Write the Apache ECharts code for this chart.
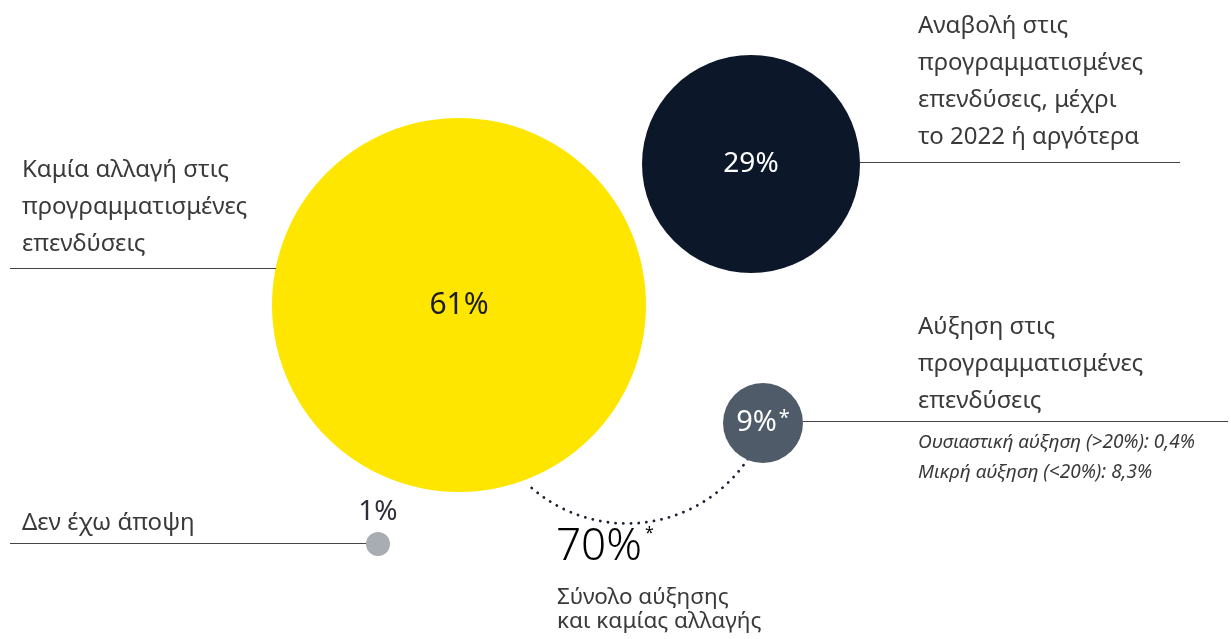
<!DOCTYPE html>
<html lang="el">
<head>
    <meta charset="UTF-8">
    <title>Επενδύσεις</title>
    <style>
        html, body {margin: 0; padding: 0; background: #fff;}
        #demo {width: 1231px; height: 639px;}
    </style>
</head>
<body>
<div id="demo"></div>
<script type="text/javascript" src="https://cdn.jsdelivr.net/npm/echarts@6/dist/echarts.min.js"></script>
<script type="text/javascript">
// data
var categories = [
    'Καμία αλλαγή στις\nπρογραμματισμένες\nεπενδύσεις',
    'Αναβολή στις\nπρογραμματισμένες\nεπενδύσεις, μέχρι\nτο 2022 ή αργότερα',
    'Αύξηση στις\nπρογραμματισμένες\nεπενδύσεις',
    'Δεν έχω άποψη'
];
var values = [61, 29, 9, 1];
var starred = [false, false, true, false];
var subLabels = ['Ουσιαστική αύξηση (>20%): 0,4%', 'Μικρή αύξηση (<20%): 8,3%'];
var totalValue = 70;
var totalLabel = 'Σύνολο αύξησης\nκαι καμίας αλλαγής';

// layout (axis units == pixels of the 1231x639 canvas)
var centers = [[459, 305], [751, 164], [763, 423], [378, 544]];
var radius = [187, 109, 40, 12];
var colors = ['#FFE600', '#0C1729', '#4F5B68', '#A8ADB3'];
var labelColors = ['#1C1C26', '#ffffff', '#ffffff', '#2E2E38'];
var labelSizes = [30, 28, 29, 28];
var leaders = [[[10, 268], [276, 268]], [[860, 162], [1180, 162]], [[803, 421], [1228, 421]], [[10, 543], [366, 543]]];
var textPos = [[22, 152], [918, 8], [918, 309], [22, 505]];
var arc = {c: [627, 378], r: 145.5, start: 33.8, end: 133.6};

var FONT = '"Noto Sans", "DejaVu Sans", sans-serif';
var myChart = echarts.init(document.getElementById('demo'));

var seriesData = values.map(function (v, i) {
    return {
        value: [centers[i][0], centers[i][1], v],
        symbolSize: radius[i] * 2,
        itemStyle: {color: colors[i], opacity: 1},
        label: {
            show: true,
            position: i === 3 ? 'top' : 'inside',
            distance: 6,
            formatter: v + '%' + (starred[i] ? '{s|*}' : ''),
            color: labelColors[i],
            fontSize: labelSizes[i],
            fontFamily: FONT,
            fontWeight: 'normal',
            rich: {
                s: {fontSize: 20, color: labelColors[i], verticalAlign: 'top', padding: [0, 0, 10, 2], fontFamily: FONT}
            }
        }
    };
});

option = {
    animation: false,
    grid: {left: 0, right: 0, top: 0, bottom: 0},
    xAxis: {type: 'value', min: 0, max: 1231, show: false},
    yAxis: {type: 'value', min: 0, max: 639, inverse: true, show: false},
    series: [
        {
            type: 'scatter',
            data: seriesData,
            silent: true,
            z: 3,
            markLine: {
                silent: true,
                symbol: 'none',
                label: {show: false},
                lineStyle: {color: '#444444', width: 1.2, type: 'solid', opacity: 1},
                data: leaders.map(function (l) {
                    return [{coord: l[0]}, {coord: l[1]}];
                })
            }
        }
    ]
};
myChart.setOption(option);

// texts and dotted arc, placed through the axes
function px(p) {
    return myChart.convertToPixel({gridIndex: 0}, p);
}
var graphics = [];
categories.forEach(function (t, i) {
    var p = px(textPos[i]);
    graphics.push({
        type: 'text', x: p[0], y: p[1], silent: true,
        style: {text: t, fontSize: 24, fontFamily: FONT, fill: '#3A3A3A', lineHeight: 37, textVerticalAlign: 'top'}
    });
});
var sp = px([918, 428]);
graphics.push({
    type: 'text', x: sp[0], y: sp[1], silent: true,
    style: {text: subLabels.join('\n'), fontSize: 19, fontStyle: 'italic', fontFamily: FONT, fill: '#3A3A3A', lineHeight: 30, textVerticalAlign: 'top'}
});
var tp = px([556, 525]);
graphics.push({
    type: 'text', x: tp[0], y: tp[1], silent: true,
    style: {
        text: '{big|' + totalValue + '%}{s|*}',
        rich: {
            big: {fontSize: 44, fontFamily: FONT, fontWeight: 300, color: '#1A2233'},
            s: {fontSize: 16, fontFamily: FONT, color: '#1A2233', verticalAlign: 'top', padding: [0, 0, 22, 3]}
        }
    }
});
var lp = px([557, 586]);
graphics.push({
    type: 'text', x: lp[0], y: lp[1], silent: true,
    style: {text: totalLabel, fontSize: 22.5, fontFamily: FONT, fill: '#3A3A3A', lineHeight: 24, textVerticalAlign: 'top'}
});
var ac = px(arc.c);
graphics.push({
    type: 'arc', silent: true, z: 1,
    shape: {cx: ac[0], cy: ac[1], r: arc.r, startAngle: arc.start * Math.PI / 180, endAngle: arc.end * Math.PI / 180, clockwise: true},
    style: {fill: null, stroke: '#1A2233', lineWidth: 2.8, lineDash: [0.1, 7.6], lineCap: 'round'}
});
myChart.setOption({graphic: graphics});
</script>
</body>
</html>
